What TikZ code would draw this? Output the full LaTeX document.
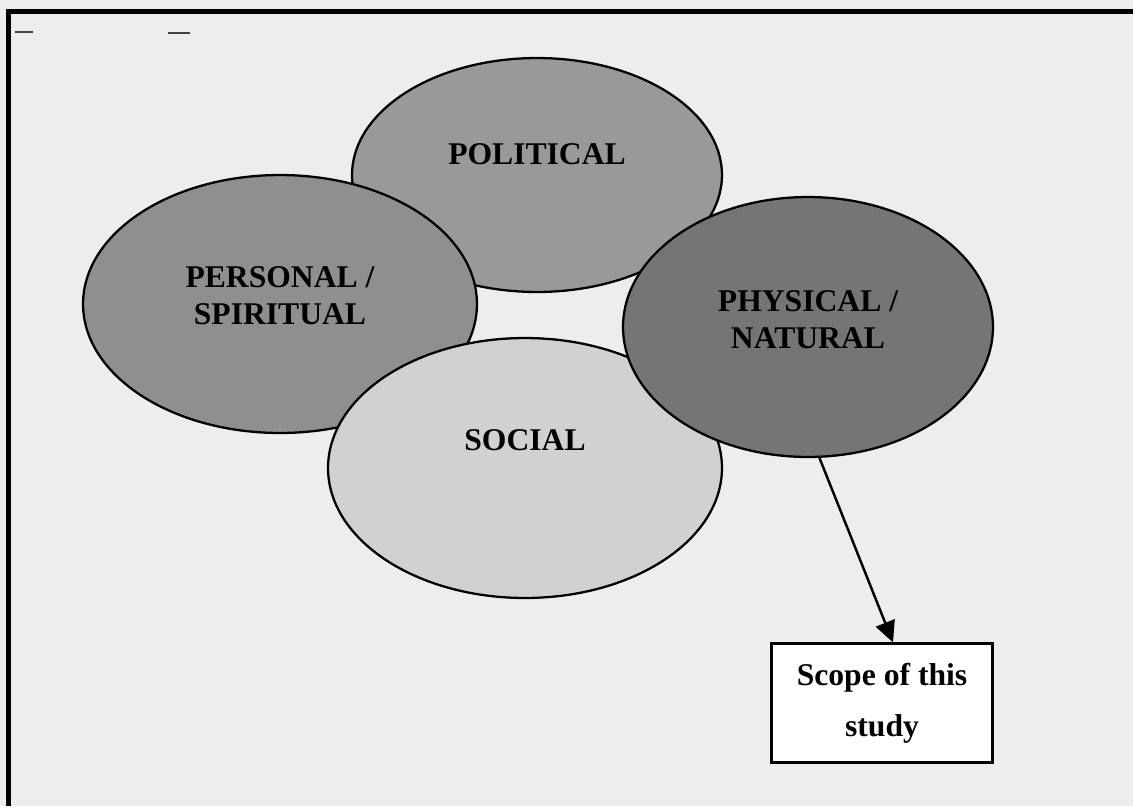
\documentclass[tikz,border=0pt]{standalone}
\usepackage{fontspec}
\setmainfont{Liberation Serif}
\usetikzlibrary{shapes.geometric,arrows.meta,calc}

\begin{document}
\begin{tikzpicture}[x=0.02cm,y=-0.02cm,
  oval/.style={ellipse,draw,line width=1.3pt,inner sep=0pt},
  lbl/.style={align=center,font=\bfseries\fontsize{18}{21}\selectfont},
  scopebox/.style={draw,fill=white,line width=1.3pt,minimum width=4.42cm,
    minimum height=2.38cm,align=center,font=\bfseries\fontsize{18}{29}\selectfont}]
\fill[black!7](0,0)rectangle(1133,806);
\useasboundingbox(0,0)rectangle(1133,806);
\draw[line width=2.4pt](8.5,806)--(8.5,11.5)--(1133,11.5);
\draw[line width=1.5pt,black!75](15,32)--(33,32);
\draw[line width=1.5pt,black!75](168,33)--(190,33);
% the four circles, bottom one first
\node[oval,fill=black!40,minimum width=7.4cm,minimum height=4.68cm](pol)at(537,175){};
\node[oval,fill=black!44,minimum width=7.88cm,minimum height=5.16cm](pers)at(280,304){};
\node[oval,fill=black!18,minimum width=7.88cm,minimum height=5.2cm](soc)at(525,468){};
\node[oval,fill=black!54,minimum width=7.4cm,minimum height=5.2cm](phys)at(808,327){};
\node[lbl](pol-txt)at($(pol)+(0,-21)$){POLITICAL};
\node[lbl](pers-txt)at($(pers)+(0,-8)$){PERSONAL /\\SPIRITUAL};
\node[lbl](soc-txt)at($(soc)+(0,-28)$){SOCIAL};
\node[lbl](phys-txt)at($(phys)+(0,-7)$){PHYSICAL /\\NATURAL};
% box
\node[scopebox](scope)at(882,703){Scope of this\\study};
\draw[-{Triangle[length=0.42cm,width=0.4cm]},line width=1.4pt](phys.-85)--($(scope.north)+(11,0)$);
\end{tikzpicture}
\end{document}
